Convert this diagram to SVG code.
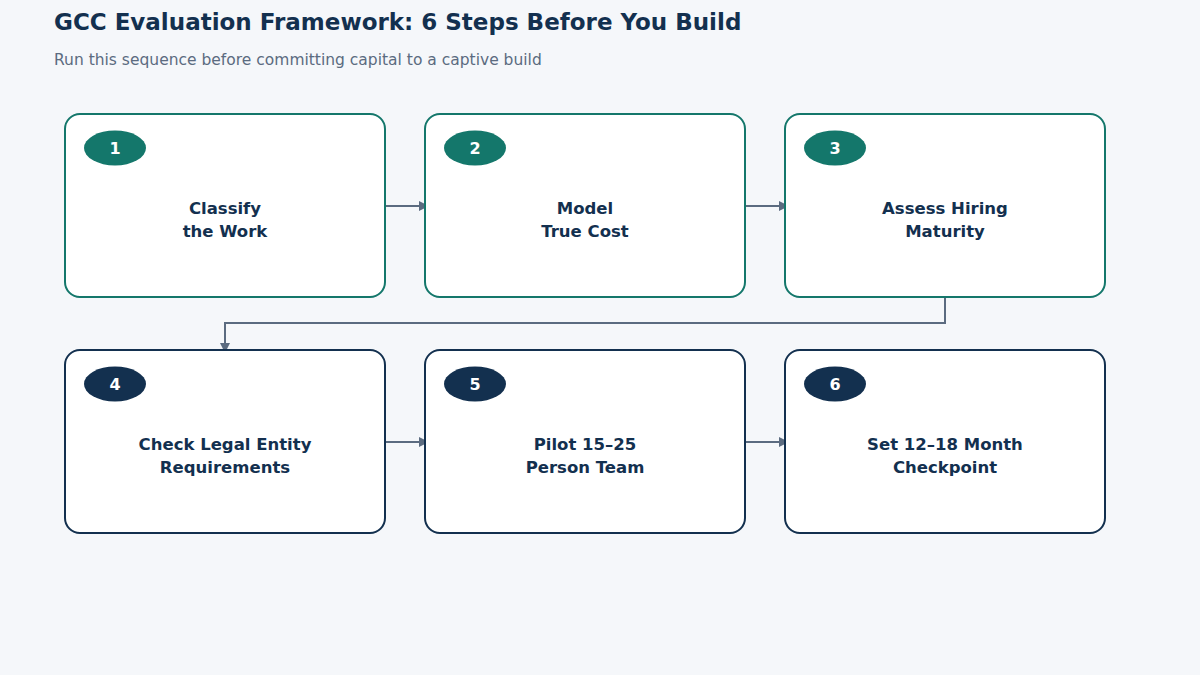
<svg xmlns="http://www.w3.org/2000/svg" width="1200" height="675" viewBox="0 0 1200 675">
<style>
.box{fill:#fff;stroke-width:2}
.t{stroke:#14776b}.n{stroke:#13304f}
.ct{fill:#14776b}.cn{fill:#13304f}
.num{font-family:"DejaVu Sans",sans-serif;font-weight:bold;font-size:16px;fill:#fff;text-anchor:middle}
.lbl{font-family:"DejaVu Sans",sans-serif;font-weight:bold;font-size:16.5px;fill:#13304f;text-anchor:middle}
.c{fill:none;stroke:#5b6b80;stroke-width:2;marker-end:url(#a)}
</style>
<defs><marker id="a" viewBox="0 0 10 10" refX="9" refY="5" markerWidth="5" markerHeight="5" orient="auto"><path d="M0,0L10,5L0,10z" fill="#5b6b80"/></marker></defs>
<rect width="1200" height="675" fill="#f5f7fa"/>
<text x="54" y="30" font-family="DejaVu Sans,sans-serif" font-weight="bold" font-size="23" fill="#13304f">GCC Evaluation Framework: 6 Steps Before You Build</text>
<text x="54" y="65" font-family="DejaVu Sans,sans-serif" font-size="15.5" fill="#5b6b80">Run this sequence before committing capital to a captive build</text>
<g id="connectors">
<path class="c" d="M380,206H428"/><path class="c" d="M740,206H788"/>
<path class="c" d="M945,295V323H225V352"/>
<path class="c" d="M380,442H428"/><path class="c" d="M740,442H788"/>
</g>
<g id="n1"><rect class="box t" x="65" y="114" width="320" height="183" rx="15"/><ellipse class="ct" cx="115" cy="148" rx="31" ry="17.5"/><text class="num" x="115" y="154">1</text><text class="lbl" x="225" y="214">Classify</text><text class="lbl" x="225" y="237">the Work</text></g>
<g id="n2"><rect class="box t" x="425" y="114" width="320" height="183" rx="15"/><ellipse class="ct" cx="475" cy="148" rx="31" ry="17.5"/><text class="num" x="475" y="154">2</text><text class="lbl" x="585" y="214">Model</text><text class="lbl" x="585" y="237">True Cost</text></g>
<g id="n3"><rect class="box t" x="785" y="114" width="320" height="183" rx="15"/><ellipse class="ct" cx="835" cy="148" rx="31" ry="17.5"/><text class="num" x="835" y="154">3</text><text class="lbl" x="945" y="214">Assess Hiring</text><text class="lbl" x="945" y="237">Maturity</text></g>
<g id="n4"><rect class="box n" x="65" y="350" width="320" height="183" rx="15"/><ellipse class="cn" cx="115" cy="384" rx="31" ry="17.5"/><text class="num" x="115" y="390">4</text><text class="lbl" x="225" y="450">Check Legal Entity</text><text class="lbl" x="225" y="473">Requirements</text></g>
<g id="n5"><rect class="box n" x="425" y="350" width="320" height="183" rx="15"/><ellipse class="cn" cx="475" cy="384" rx="31" ry="17.5"/><text class="num" x="475" y="390">5</text><text class="lbl" x="585" y="450">Pilot 15–25</text><text class="lbl" x="585" y="473">Person Team</text></g>
<g id="n6"><rect class="box n" x="785" y="350" width="320" height="183" rx="15"/><ellipse class="cn" cx="835" cy="384" rx="31" ry="17.5"/><text class="num" x="835" y="390">6</text><text class="lbl" x="945" y="450">Set 12–18 Month</text><text class="lbl" x="945" y="473">Checkpoint</text></g>
</svg>
